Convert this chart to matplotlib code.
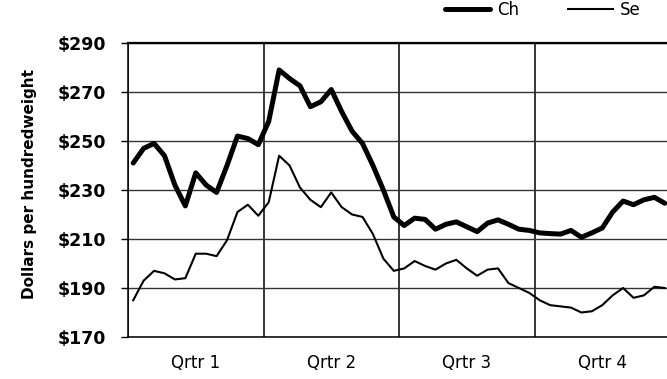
import numpy as np
import matplotlib
matplotlib.use("Agg")
import matplotlib.pyplot as plt

# weekly prices, $/cwt, 13 weeks per quarter
choice = [241, 247, 249, 244, 232, 223.5, 237, 232, 229, 240, 252, 251, 248.5,
          258, 279, 275.5, 272.5, 264, 266, 271, 262, 254, 249, 240, 230, 219,
          215.5, 218.5, 218, 214, 216, 217, 215, 213, 216.5, 217.8, 216, 214, 213.5,
          212.5, 212.2, 212, 213.5, 210.7, 212.5, 214.5, 221, 225.5, 224, 226, 227, 224.6]
select = [185, 193, 197, 196, 193.5, 194, 204, 204, 203, 209.5, 221, 224, 219.5,
          225, 244, 240, 231, 226, 223, 229, 223, 220, 219, 212, 202, 197,
          198, 201, 199, 197.5, 200, 201.5, 198, 195, 197.5, 198, 192, 190, 188,
          185, 183, 182.5, 182, 180, 180.5, 183, 187, 190, 186, 187, 190.5, 190]
quarters = ["Qrtr 1", "Qrtr 2", "Qrtr 3", "Qrtr 4"]
series_names = ["Ch", "Se"]
y_ticks = [170, 190, 210, 230, 250, 270, 290]

weeks = np.arange(len(choice)) + 0.5

fig = plt.figure(figsize=(6.67, 3.79), dpi=100)
# axes run past the right edge of the figure, as in the original (cropped)
ax = fig.add_axes([128 / 667, 42 / 379, 542 / 667, 294 / 379])

ax.plot(weeks, choice, color="black", lw=3.6, solid_joinstyle="round",
        solid_capstyle="round", label=series_names[0], zorder=3)
ax.plot(weeks, select, color="black", lw=1.5, solid_joinstyle="round",
        label=series_names[1], zorder=3)

ax.set_xlim(0, 52)
ax.set_ylim(170, 290)

ax.set_yticks(y_ticks)
ax.set_yticklabels([f"${v}" for v in y_ticks], fontweight="bold", fontsize=12.5)
ax.tick_params(axis="y", length=5, width=1, pad=11)

ax.set_xticks([0, 13, 26, 39, 52])
ax.set_xticklabels([])
ax.set_xticks([6.5, 19.5, 32.5, 45.5], minor=True)
ax.set_xticklabels(quarters, minor=True, fontsize=12)
ax.tick_params(axis="x", which="both", length=0, pad=12)

ax.grid(axis="y", color="#333333", lw=1)
ax.grid(axis="x", color="black", lw=1.1)

ax.spines["right"].set_visible(False)
ax.spines["top"].set_linewidth(1.6)
ax.spines["left"].set_linewidth(1.1)
ax.spines["bottom"].set_linewidth(1.1)

ax.set_ylabel("Dollars per hundredweight", fontweight="bold", fontsize=11)
ax.yaxis.set_label_coords(-0.168, 0.52)

fig.legend(loc="center left", bbox_to_anchor=(445 / 667, 1 - 10 / 379), ncol=2,
           frameon=False, fontsize=12, handlelength=2.7, handletextpad=0.45,
           columnspacing=2.9, borderpad=0, borderaxespad=0)

fig.savefig("out.png", dpi=100)
